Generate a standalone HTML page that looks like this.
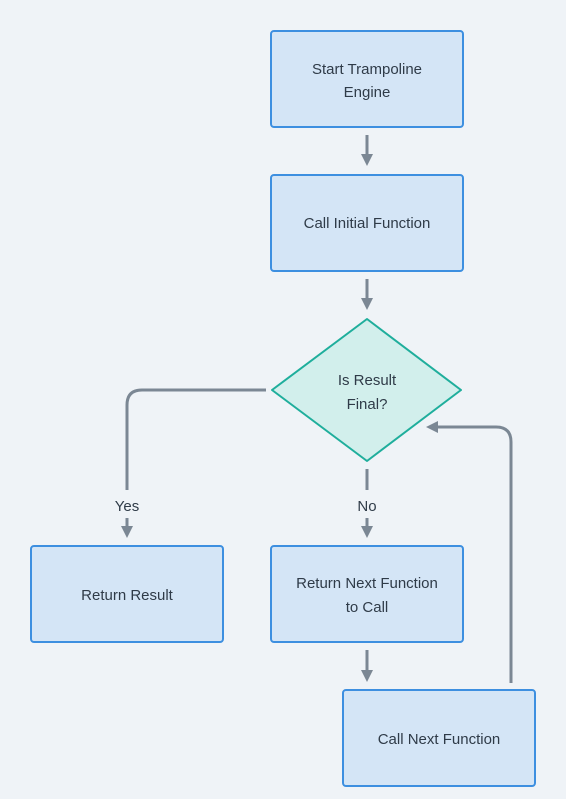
<!DOCTYPE html>
<html><head><style>
body{margin:0;background:#eff3f7;}
svg{display:block;font-family:"Liberation Sans",sans-serif;}
</style></head><body>
<svg width="566" height="799" viewBox="0 0 566 799">
<defs><marker id="a" markerWidth="4" markerHeight="4" refX="2" refY="2" orient="auto" markerUnits="strokeWidth"><path d="M0,0 L4,2 L0,4z" fill="#7b8794"/></marker></defs>
<rect width="566" height="799" fill="#eff3f7"/>
<g fill="#d4e5f6" stroke="#3d8fe0" stroke-width="2">
<rect x="271" y="31" width="192" height="96" rx="3"/>
<rect x="271" y="175" width="192" height="96" rx="3"/>
<rect x="31" y="546" width="192" height="96" rx="3"/>
<rect x="271" y="546" width="192" height="96" rx="3"/>
<rect x="343" y="690" width="192" height="96" rx="3"/>
</g>
<path d="M367,319 L461,390 L367,461 L272,390Z" fill="#d2efec" stroke="#1fae9c" stroke-width="2" stroke-linejoin="round"/>
<g stroke="#7b8794" stroke-width="3" fill="none">
<path d="M367,135 V160" marker-end="url(#a)"/>
<path d="M367,279 V304" marker-end="url(#a)"/>
<path d="M266,390 H142 Q127,390 127,405 V490"/>
<path d="M127,518 V532" marker-end="url(#a)"/>
<path d="M367,469 V490"/>
<path d="M367,518 V532" marker-end="url(#a)"/>
<path d="M367,650 V676" marker-end="url(#a)"/>
<path d="M511,683 V442 Q511,427 496,427 H432" marker-end="url(#a)"/>
</g>
<g fill="#2f3b48" font-size="15" text-anchor="middle">
<text x="367" y="74">Start Trampoline</text>
<text x="367" y="97">Engine</text>
<text x="367" y="228">Call Initial Function</text>
<text x="367" y="385">Is Result</text>
<text x="367" y="409">Final?</text>
<text x="127" y="511">Yes</text>
<text x="367" y="511">No</text>
<text x="127" y="600">Return Result</text>
<text x="367" y="588">Return Next Function</text>
<text x="367" y="612">to Call</text>
<text x="439" y="744">Call Next Function</text>
</g>
</svg>
</body></html>
